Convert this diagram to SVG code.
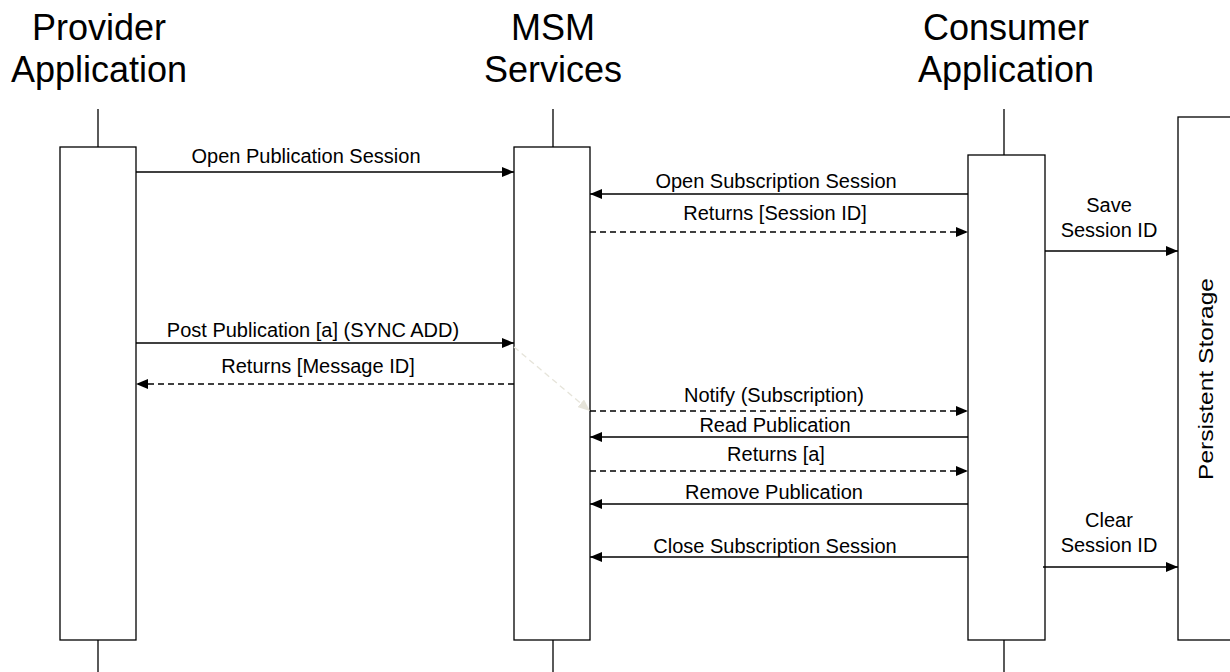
<svg xmlns="http://www.w3.org/2000/svg" width="1230" height="672" viewBox="0 0 1230 672">
<defs>
<style>
.box{fill:#fff;stroke:#000;stroke-width:1.3}
.life{stroke:#000;stroke-width:1.3;fill:none}
.hd{font-family:"Liberation Sans",Arial,sans-serif;font-size:36px;fill:#000;text-anchor:middle}
.lb{font-family:"Liberation Sans",Arial,sans-serif;font-size:20px;fill:#000;text-anchor:middle}
.msg{stroke:#000;stroke-width:1.3;fill:none;marker-end:url(#ah)}
.dash{stroke-dasharray:6,4}
</style>
<marker id="ah" viewBox="0 0 12 10" refX="12" refY="5" markerWidth="12" markerHeight="10" markerUnits="userSpaceOnUse" orient="auto">
<path d="M0,0 L12,5 L0,10 Z" fill="#000"/>
</marker>
<marker id="ahf" viewBox="0 0 12 10" refX="12" refY="5" markerWidth="12" markerHeight="10" markerUnits="userSpaceOnUse" orient="auto">
<path d="M0,0 L12,5 L0,10 Z" fill="#e6e4da"/>
</marker>
</defs>
<rect width="1230" height="672" fill="#fff"/>
<g id="provider">
<text class="hd" x="99" y="40">Provider</text>
<text class="hd" x="99" y="82">Application</text>
<line class="life" x1="98" y1="109" x2="98" y2="147"/>
<line class="life" x1="98" y1="640" x2="98" y2="672"/>
<rect class="box" x="60" y="147" width="76" height="493"/>
</g>
<g id="msm">
<text class="hd" x="553" y="40">MSM</text>
<text class="hd" x="553" y="82">Services</text>
<line class="life" x1="553" y1="109" x2="553" y2="147"/>
<line class="life" x1="553" y1="640" x2="553" y2="672"/>
<rect class="box" x="514" y="147" width="76" height="493"/>
</g>
<g id="consumer">
<text class="hd" x="1006" y="40">Consumer</text>
<text class="hd" x="1006" y="82">Application</text>
<line class="life" x1="1004" y1="109" x2="1004" y2="155"/>
<line class="life" x1="1004" y1="640" x2="1004" y2="672"/>
<rect class="box" x="968" y="155" width="77" height="485"/>
</g>
<g id="storage">
<rect class="box" x="1178" y="117" width="60" height="523"/>
<text class="lb" textLength="202" lengthAdjust="spacingAndGlyphs" transform="translate(1213,379) rotate(-90)">Persistent Storage</text>
</g>
<g id="connectors">
<line class="msg" x1="136" y1="172" x2="514" y2="172"/>
<text class="lb" x="306" y="163">Open Publication Session</text>
<line class="msg" x1="968" y1="194" x2="590" y2="194"/>
<text class="lb" x="776" y="188">Open Subscription Session</text>
<line class="msg dash" x1="590" y1="232" x2="968" y2="232"/>
<text class="lb" x="775" y="220">Returns [Session ID]</text>
<line class="msg" x1="1045" y1="251" x2="1178" y2="251"/>
<text class="lb" x="1109" y="212">Save</text>
<text class="lb" x="1109" y="237">Session ID</text>
<line class="msg" x1="136" y1="343" x2="514" y2="343"/>
<text class="lb" x="313" y="337">Post Publication [a] (SYNC ADD)</text>
<line class="msg dash" x1="514" y1="384" x2="136" y2="384"/>
<text class="lb" x="318" y="373">Returns [Message ID]</text>
<line class="msg dash" x1="514" y1="347" x2="590" y2="411" style="stroke:#e6e4da;marker-end:url(#ahf)"/>
<line class="msg dash" x1="590" y1="411" x2="968" y2="411"/>
<text class="lb" x="774" y="402">Notify (Subscription)</text>
<line class="msg" x1="968" y1="437" x2="590" y2="437"/>
<text class="lb" x="775" y="432">Read Publication</text>
<line class="msg dash" x1="590" y1="471" x2="968" y2="471"/>
<text class="lb" x="776" y="461">Returns [a]</text>
<line class="msg" x1="968" y1="504" x2="590" y2="504"/>
<text class="lb" x="774" y="499">Remove Publication</text>
<line class="msg" x1="968" y1="557" x2="590" y2="557"/>
<text class="lb" x="775" y="553">Close Subscription Session</text>
<line class="msg" x1="1043" y1="567" x2="1178" y2="567"/>
<text class="lb" x="1109" y="527">Clear</text>
<text class="lb" x="1109" y="552">Session ID</text>
</g>
</svg>
